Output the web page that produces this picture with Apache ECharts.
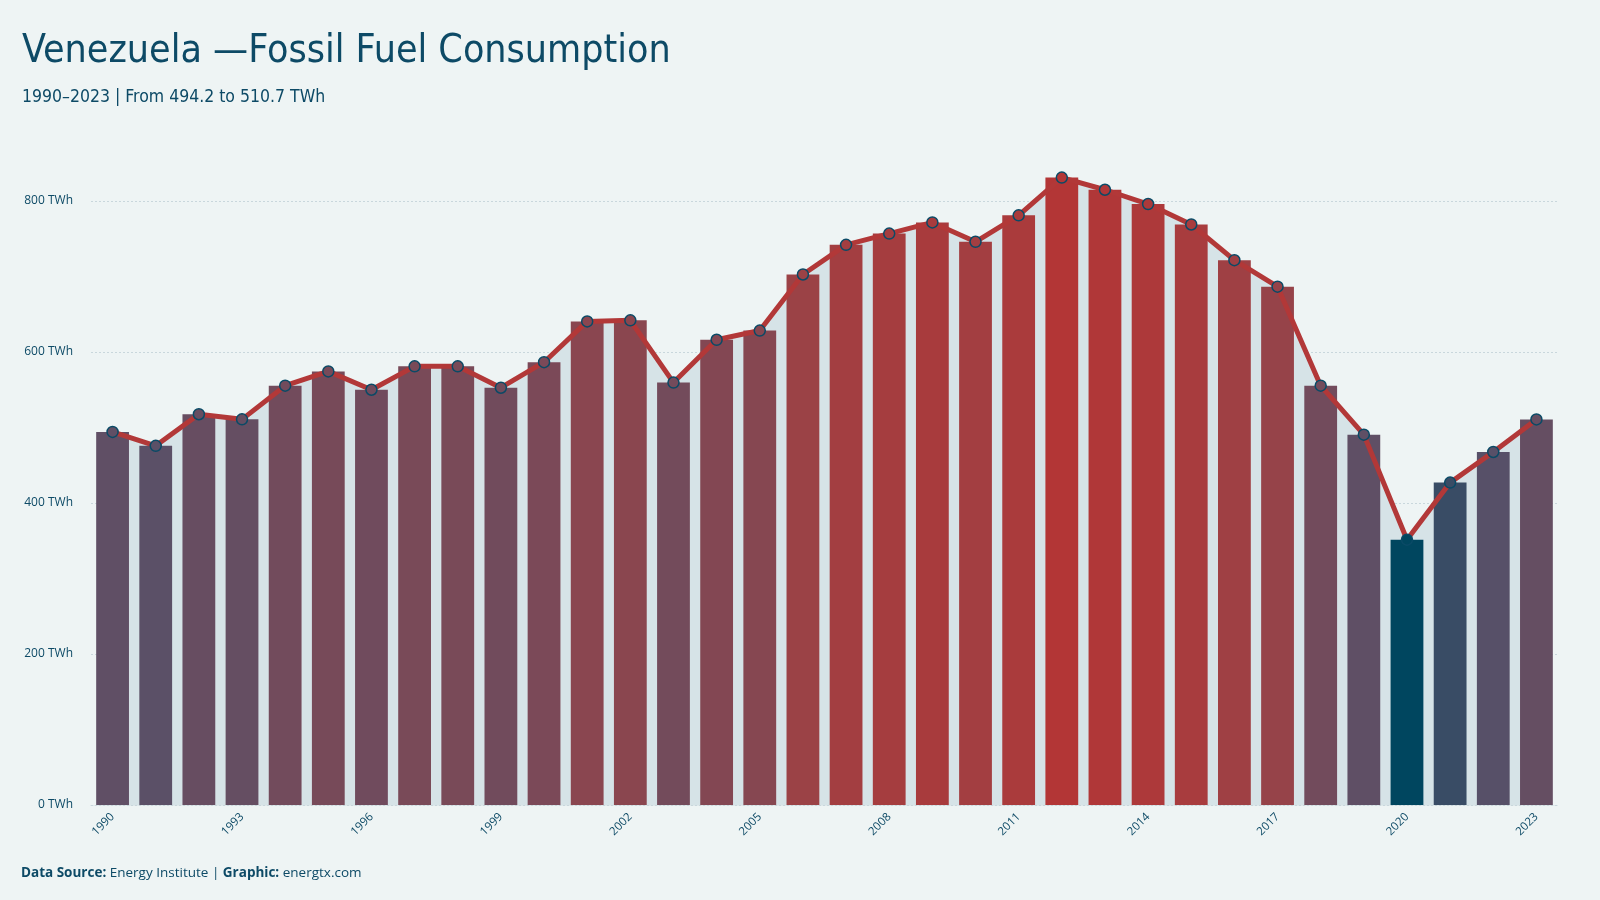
<!DOCTYPE html>
<html>
<head>
<meta charset="utf-8">
<title>Venezuela — Fossil Fuel Consumption</title>
<script src="https://cdn.jsdelivr.net/npm/echarts@6/dist/echarts.min.js"></script>
<style>
  html, body { margin: 0; padding: 0; background: #eef4f4; }
  #chart { width: 1600px; height: 900px; }
</style>
</head>
<body>
<div id="chart"></div>
<script>
// data (TWh)
var years = ['1990','1991','1992','1993','1994','1995','1996','1997','1998','1999',
             '2000','2001','2002','2003','2004','2005','2006','2007','2008','2009',
             '2010','2011','2012','2013','2014','2015','2016','2017','2018','2019',
             '2020','2021','2022','2023'];
var consumption = [494.2, 475.7, 517.6, 510.8, 555.4, 574.3, 550.0, 581.0, 581.0, 552.7,
                   586.5, 640.5, 641.9, 559.5, 616.2, 628.4, 702.7, 741.9, 756.8, 771.6,
                   746.0, 781.0, 831.0, 814.9, 796.0, 768.9, 721.6, 686.5, 555.4, 490.5,
                   351.4, 427.0, 467.6, 510.7];
var yTicks = [0, 200, 400, 600, 800];

var ink = '#0d4a66';
var condensed = '"DejaVu Sans Condensed", "Liberation Sans Narrow", sans-serif';
var colorStops = ['#00465f', '#5a5068', '#7c4957', '#9d4145', '#b33636'];

var vMin = Math.min.apply(null, consumption);
var vMax = Math.max.apply(null, consumption);
function colorFor(v) {
  return echarts.color.lerp((v - vMin) / (vMax - vMin), colorStops);
}

var barData = consumption.map(function (v) {
  return { value: v, itemStyle: { color: colorFor(v) } };
});
var dotData = consumption.map(function (v) {
  return { value: v, itemStyle: { color: colorFor(v) } };
});

var myChart = echarts.init(document.getElementById('chart'));

var option = {
  backgroundColor: '#eef4f4',
  animation: false,
  title: [{
    text: 'Venezuela —Fossil Fuel Consumption',
    left: 17, top: 27,
    textStyle: { color: ink, fontSize: 39, fontWeight: 'normal', fontFamily: condensed }
  }, {
    text: '1990–2023 | From 494.2 to 510.7 TWh',
    left: 17, top: 83,
    textStyle: { color: ink, fontSize: 17.5, fontWeight: 'normal', fontFamily: condensed }
  }, {
    text: '{b|Data Source:} Energy Institute | {b|Graphic:} energtx.com',
    left: 16, top: 861,
    textStyle: {
      color: ink, fontSize: 13.5, fontWeight: 'normal', fontFamily: '"Open Sans", sans-serif',
      rich: { b: { fontWeight: 'bold', fontSize: 13.5, color: ink, fontFamily: '"Open Sans", sans-serif' } }
    }
  }],
  grid: { left: 91, right: 42, top: 125.5, bottom: 95 },
  xAxis: {
    type: 'category',
    data: years,
    axisTick: { show: false },
    axisLine: { lineStyle: { color: '#c9d7dc', type: [2, 2] } },
    axisLabel: {
      interval: 2, rotate: 45, color: ink, fontSize: 11.5, margin: 10,
      fontFamily: '"Open Sans", sans-serif'
    }
  },
  yAxis: {
    type: 'value',
    min: 0, max: 900, interval: 200,
    axisLine: { show: false },
    axisTick: { show: false },
    axisLabel: {
      color: ink, fontSize: 12, margin: 18, fontFamily: '"Open Sans", sans-serif',
      formatter: function (v) { return yTicks.indexOf(v) >= 0 ? v + ' TWh' : ''; }
    },
    splitLine: {
      lineStyle: {
        color: ['#c9d7dc', '#c9d7dc', '#c9d7dc', '#c9d7dc', '#c9d7dc', 'transparent'],
        type: [2, 2]
      }
    }
  },
  series: [{
    // light area under the line, behind the bars
    type: 'line',
    data: consumption,
    symbol: 'none',
    lineStyle: { width: 0 },
    areaStyle: { color: '#d6e3e7', opacity: 1 },
    z: 1,
    silent: true
  }, {
    type: 'bar',
    data: barData,
    barCategoryGap: '24%',
    z: 2
  }, {
    type: 'line',
    data: dotData,
    symbol: 'circle',
    symbolSize: 11,
    lineStyle: { color: '#b23838', width: 5 },
    itemStyle: { borderColor: '#0a4a66', borderWidth: 1.5 },
    z: 3
  }]
};

myChart.setOption(option);
</script>
</body>
</html>
